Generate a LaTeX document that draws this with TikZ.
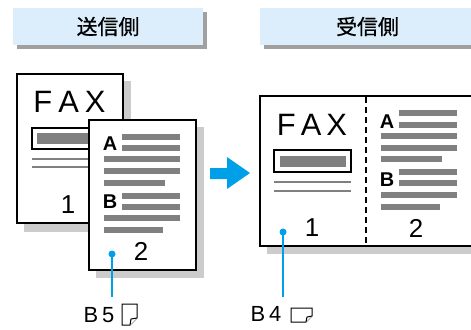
\documentclass[tikz,border=0pt]{standalone}
\usepackage{fontspec}
\setmainfont{Liberation Sans}
\newfontfamily\jpfont[FakeBold=0.7]{Noto Sans CJK JP}
\definecolor{hdrblue}{HTML}{DCEEFB}
\definecolor{hdrshadow}{HTML}{A0A0A0}
\definecolor{pgshadow}{HTML}{CCCCCC}
\definecolor{bargray}{HTML}{808080}
\definecolor{cyanblue}{HTML}{00A0E9}
\begin{document}
\begin{tikzpicture}[x=1bp,y=-1bp,
 hdr/.style={fill=hdrblue, minimum height=37bp, inner sep=0, font=\jpfont\fontsize{21}{21}\selectfont},
 hshadow/.style={fill=hdrshadow},
 pshadow/.style={fill=pgshadow},
 page/.style={draw=black, line width=2bp, fill=white, inner sep=0},
 bar/.style={draw=bargray, line width=5.5bp},
 thinln/.style={draw=bargray, line width=1.6bp},
 titlebox/.style={draw=black, line width=1.4bp, fill=white},
 barfill/.style={fill=bargray},
 faxtxt/.style={font=\fontsize{31}{31}\selectfont, inner sep=0},
 num/.style={font=\fontsize{26}{26}\selectfont, inner sep=0},
 lett/.style={font=\bfseries\fontsize{20}{20}\selectfont, inner sep=0},
 lbl/.style={font=\fontsize{22}{22}\selectfont, inner sep=0},
 dot/.style={circle, fill=cyanblue, inner sep=0, minimum size=7bp},
 lead/.style={draw=cyanblue, line width=2bp},
 icon/.style={draw=black, line width=1bp, fill=white, line join=miter},
 arrowfill/.style={fill=cyanblue},
]
\useasboundingbox (0,0) rectangle (471,329);
% headers
\fill[hshadow] (17,12) rectangle (207,49);
\node[hdr, minimum width=190bp] (hsend) at (108,26.5) {送信側};
\fill[hshadow] (264,12) rectangle (480,49);
\node[hdr, minimum width=215bp] (hrecv) at (367.5,26.5) {受信側};

% sender page 1
\fill[pshadow] (24,81) rectangle (131,232);
\node[page, minimum width=106bp, minimum height=149bp] (p1) at (70,148.5) {};
\node[faxtxt] (fax1) at (69.5,102) {F\kern6bp A\kern6bp X};
\draw[titlebox] (32,128) rectangle (112,149);
\fill[barfill] (37,133) rectangle (110,144);
\draw[thinln] (32,159) -- (110,159);
\draw[thinln] (32,167) -- (110,167);
\node[num] (n1) at (68,205) {1};

% sender page 2
\fill[pshadow] (96,127) rectangle (204,278);
\node[page, minimum width=107bp, minimum height=150bp] (p2) at (142.5,195) {};
\node[lett] (a2) at (110,144) {A};
\draw[bar] (122,137) -- (180,137);
\draw[bar] (122,148) -- (180,148);
\draw[bar] (104,159) -- (180,159);
\draw[bar] (104,171) -- (180,171);
\draw[bar] (104,183) -- (165,183);
\node[lett] (b2) at (110,202) {B};
\draw[bar] (122,196) -- (180,196);
\draw[bar] (122,207) -- (180,207);
\draw[bar] (104,218) -- (180,218);
\draw[bar] (104,230) -- (163,230);
\node[num] (n2) at (141,251) {2};
\node[dot] (d5) at (112,254) {};

% arrow
\fill[arrowfill] (210,168) -- (227,168) -- (227,157) -- (250,173) -- (227,189) -- (227,179) -- (210,179) -- cycle;

% receiver page
\fill[pshadow] (267,103) rectangle (480,254);
\node[page, minimum width=215bp, minimum height=150bp] (p3) at (367.5,171) {};
\coordinate (dtop) at (366,97);
\coordinate (dbot) at (366,245);
\draw[black, line width=1.2bp, dash pattern=on 6bp off 4bp] (dtop) -- (dbot);
\node[faxtxt] (fax3) at (312,125) {F\kern5bp A\kern5bp X};
\draw[titlebox] (274,150) rectangle (351,172);
\fill[barfill] (280,156) rectangle (346,167);
\draw[thinln] (274,182) -- (351,182);
\draw[thinln] (274,191) -- (351,191);
\node[num] (n3) at (312,228) {1};
\node[dot] (d4) at (283,232) {};
\node[lett] (a3) at (387,122) {A};
\draw[bar] (399,113) -- (457,113);
\draw[bar] (399,125) -- (457,125);
\draw[bar] (381,136) -- (457,136);
\draw[bar] (381,148) -- (457,148);
\draw[bar] (381,159) -- (442,159);
\node[lett] (b3) at (387,180) {B};
\draw[bar] (399,172) -- (457,172);
\draw[bar] (399,183) -- (457,183);
\draw[bar] (381,195) -- (457,195);
\draw[bar] (381,207) -- (440,207);
\node[num] (n4) at (416,228) {2};

% labels
\coordinate (e5) at (112,297);
\coordinate (e4) at (283,297);
\draw[lead] (d5.center) -- (e5);
\draw[lead] (d4.center) -- (e4);
\node[lbl] (l5) at (99,315) {B\kern4bp 5};
\node[lbl] (l4) at (266,314) {B\kern4bp 4};
\draw[icon] (122,304) -- (137,304) -- (137,318) -- (130,325) -- (122,325) -- cycle;
\draw[icon] (130,325) -- (131,319) -- (137,318);
\draw[icon] (291,308) -- (312,308) -- (312,316) -- (306,322) -- (291,322) -- cycle;
\draw[icon] (306,322) -- (307,317) -- (312,316);
\end{tikzpicture}
\end{document}
